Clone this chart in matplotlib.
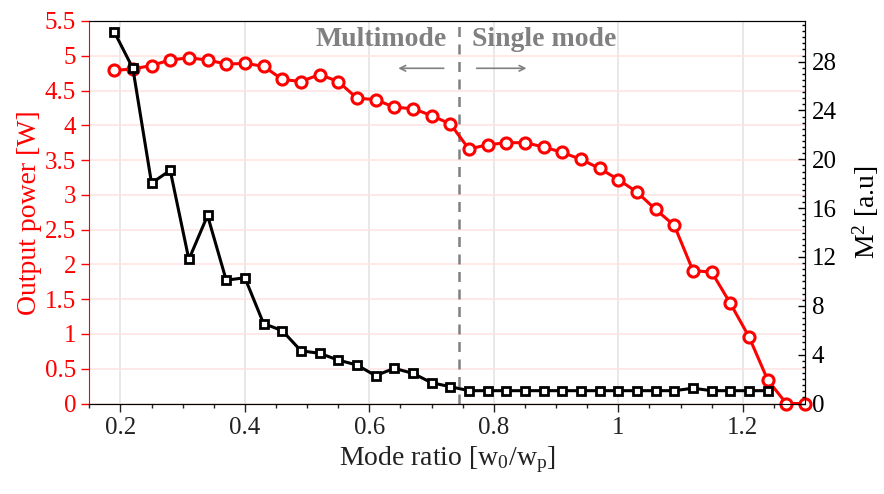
import matplotlib
matplotlib.use("Agg")
import matplotlib.pyplot as plt
from matplotlib.ticker import MultipleLocator

plt.rcParams['font.family'] = ['Liberation Serif', 'DejaVu Serif']
plt.rcParams['mathtext.fontset'] = 'custom'
plt.rcParams['mathtext.rm'] = 'Liberation Serif'
plt.rcParams['mathtext.it'] = 'Liberation Serif:italic'

# mode ratio for the output power scan
ratio_power = [0.19, 0.22, 0.25, 0.28, 0.31, 0.34, 0.37, 0.40, 0.43, 0.46,
               0.49, 0.52, 0.55, 0.58, 0.61, 0.64, 0.67, 0.70, 0.73, 0.76,
               0.79, 0.82, 0.85, 0.88, 0.91, 0.94, 0.97, 1.00, 1.03, 1.06,
               1.09, 1.12, 1.15, 1.18, 1.21, 1.24, 1.27, 1.30]
power = [4.79, 4.81, 4.86, 4.94, 4.97, 4.94, 4.88, 4.89, 4.85, 4.66,
         4.63, 4.73, 4.63, 4.39, 4.37, 4.26, 4.24, 4.14, 4.02, 3.66,
         3.72, 3.75, 3.75, 3.69, 3.61, 3.51, 3.38, 3.22, 3.04, 2.79,
         2.56, 1.91, 1.89, 1.44, 0.96, 0.34, 0.0, 0.0]

# beam quality measured up to 1.24
ratio_m2 = [0.19, 0.22, 0.25, 0.28, 0.31, 0.34, 0.37, 0.40, 0.43, 0.46,
            0.49, 0.52, 0.55, 0.58, 0.61, 0.64, 0.67, 0.70, 0.73, 0.76,
            0.79, 0.82, 0.85, 0.88, 0.91, 0.94, 0.97, 1.00, 1.03, 1.06,
            1.09, 1.12, 1.15, 1.18, 1.21, 1.24]
m2 = [30.45, 27.45, 18.05, 19.1, 11.8, 15.4, 10.1, 10.3, 6.55, 5.97,
      4.32, 4.11, 3.56, 3.15, 2.28, 2.88, 2.47, 1.70, 1.38, 1.05,
      1.05, 1.05, 1.05, 1.05, 1.05, 1.05, 1.05, 1.05, 1.05, 1.05,
      1.05, 1.25, 1.05, 1.05, 1.05, 1.05]

threshold = 0.744

fig = plt.figure(figsize=(8.84, 4.94), dpi=100)
ax1 = fig.add_axes([89.3 / 884, 1 - 403.5 / 494, (805 - 89.3) / 884, (403.5 - 21) / 494])
ax2 = ax1.twinx()

ax1.set_xlim(0.15, 1.30)
ax1.set_ylim(0, 5.5)
ax2.set_ylim(0, 31.33)

# grid
ax1.xaxis.set_minor_locator(MultipleLocator(0.05))
ax1.set_xticks([0.2, 0.4, 0.6, 0.8, 1.0, 1.2])
ax1.set_xticklabels(['0.2', '0.4', '0.6', '0.8', '1', '1.2'])
ax1.set_yticks([0, 0.5, 1, 1.5, 2, 2.5, 3, 3.5, 4, 4.5, 5, 5.5])
ax1.set_yticklabels(['0', '0.5', '1', '1.5', '2', '2.5', '3', '3.5', '4', '4.5', '5', '5.5'])
ax1.grid(axis='y', color='#ffe2e2', lw=1.1)
ax1.grid(axis='x', color='#e2e2e2', lw=1.1)
ax1.set_axisbelow(True)

ax1.plot(ratio_power, power, color='red', lw=2.2, marker='o', ms=8,
         mfc='white', mec='red', mew=2.2, clip_on=False, zorder=3)
ax2.plot(ratio_m2, m2, color='black', lw=2.2, marker='s', ms=6,
         mfc='white', mec='black', mew=2.0, clip_on=False, zorder=3)

ax1.axvline(threshold, color='#808080', lw=1.8, ls=(0, (4, 3)), zorder=2)

ax1.text(0.725, 5.24, 'Multimode', color='#808080', fontsize=20,
         fontweight='bold', ha='right', va='center')
ax1.text(0.765, 5.24, 'Single mode', color='#808080', fontsize=20,
         fontweight='bold', ha='left', va='center')
ax1.annotate('', xy=(0.642, 4.82), xytext=(0.724, 4.82),
             arrowprops=dict(arrowstyle='->', color='#808080', lw=1.2))
ax1.annotate('', xy=(0.857, 4.82), xytext=(0.768, 4.82),
             arrowprops=dict(arrowstyle='->', color='#808080', lw=1.2))

# axes styling
ax1.spines['left'].set_color('red')
ax2.spines['left'].set_visible(False)
ax1.tick_params(axis='y', colors='red', labelsize=18, direction='out', length=6, width=1)
ax1.tick_params(axis='x', which='major', labelsize=18, direction='out', length=6,
                width=1, colors='#222222', labelcolor='#222222')
ax1.tick_params(axis='x', which='minor', direction='out', length=3, width=1, colors='#222222')

ax2.set_yticks([0, 4, 8, 12, 16, 20, 24, 28])
ax2.yaxis.set_minor_locator(MultipleLocator(0.5))
ax2.tick_params(axis='y', which='major', labelsize=18, direction='in', length=5, width=1,
                colors='black', pad=5)
ax2.tick_params(axis='y', which='minor', direction='in', length=2.5, width=1, colors='black')

ax1.set_xlabel('Mode ratio [w$_0$/w$_\\mathrm{p}$]', fontsize=20, color='#222222', labelpad=4)
ax1.set_ylabel('Output power [W]', fontsize=20, color='red', labelpad=2)
ax2.set_ylabel('M$^2$ [a.u]', fontsize=20, color='black', labelpad=10)

fig.savefig('out.png', dpi=100)
